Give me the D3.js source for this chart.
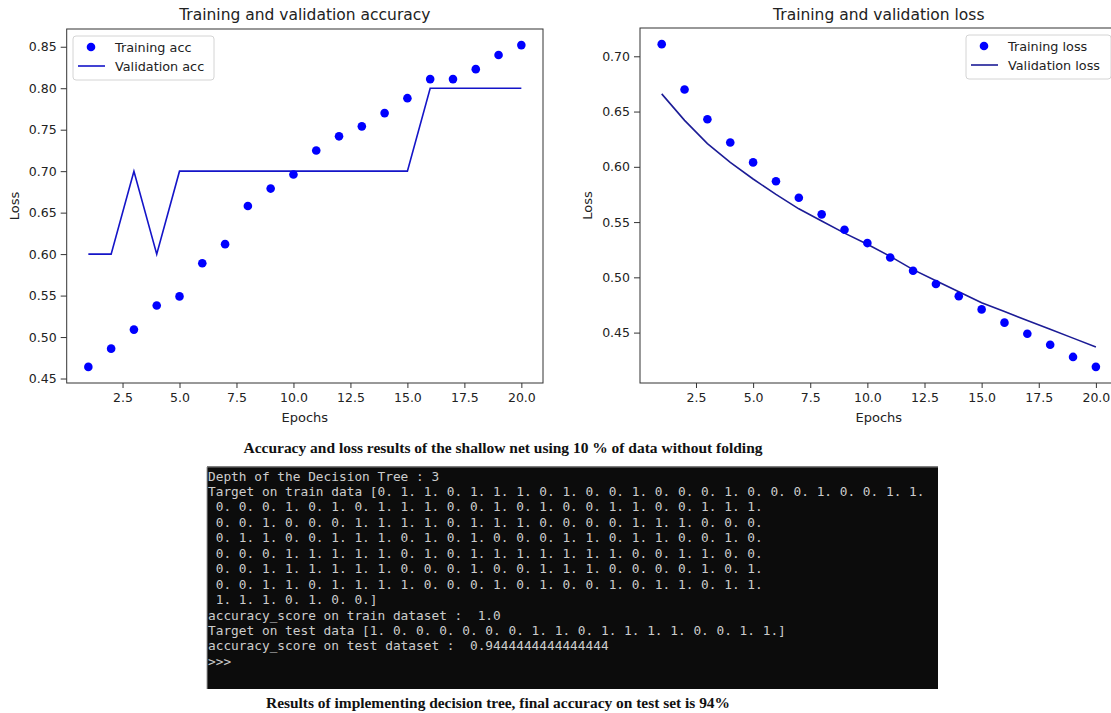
<!DOCTYPE html>
<html>
<head>
<meta charset="utf-8">
<script src="https://cdn.jsdelivr.net/npm/d3@7"></script>
<style>
body { margin: 0; background: #fff; }
text { font-family: "DejaVu Sans", sans-serif; }
</style>
</head>
<body>
<script>
// epochs and the four series
var epochs = [1, 2, 3, 4, 5, 6, 7, 8, 9, 10, 11, 12, 13, 14, 15, 16, 17, 18, 19, 20];
var trainAcc = [0.464, 0.486, 0.509, 0.538, 0.549, 0.589, 0.612, 0.658, 0.679, 0.696,
                0.725, 0.742, 0.754, 0.770, 0.788, 0.811, 0.811, 0.823, 0.840, 0.852];
var valAcc = [0.6, 0.6, 0.7, 0.6, 0.7, 0.7, 0.7, 0.7, 0.7, 0.7,
              0.7, 0.7, 0.7, 0.7, 0.7, 0.8, 0.8, 0.8, 0.8, 0.8];
var trainLoss = [0.711, 0.670, 0.643, 0.622, 0.604, 0.587, 0.572, 0.557, 0.543, 0.531,
                 0.518, 0.506, 0.494, 0.483, 0.471, 0.459, 0.449, 0.439, 0.428, 0.419];
var valLoss = [0.666, 0.642, 0.621, 0.604, 0.589, 0.575, 0.562, 0.551, 0.540, 0.530,
               0.519, 0.507, 0.497, 0.487, 0.477, 0.469, 0.461, 0.453, 0.445, 0.437];

var epochTicks = [2.5, 5.0, 7.5, 10.0, 12.5, 15.0, 17.5, 20.0];
var accTicks = [0.45, 0.50, 0.55, 0.60, 0.65, 0.70, 0.75, 0.80, 0.85];
var lossTicks = [0.45, 0.50, 0.55, 0.60, 0.65, 0.70];

var caption1 = "Accuracy and loss results of the shallow net using 10 % of data without folding";
var caption2 = "Results of implementing decision tree, final accuracy on test set is 94%";

// console output shown in the screenshot
var consoleLines = [
  "Depth of the Decision Tree : 3",
  "Target on train data [0. 1. 1. 0. 1. 1. 1. 0. 1. 0. 0. 1. 0. 0. 0. 1. 0. 0. 0. 1. 0. 0. 1. 1.",
  " 0. 0. 0. 1. 0. 1. 0. 1. 1. 1. 0. 0. 1. 0. 1. 0. 0. 1. 1. 0. 0. 1. 1. 1.",
  " 0. 0. 1. 0. 0. 0. 1. 1. 1. 1. 0. 1. 1. 1. 0. 0. 0. 0. 1. 1. 1. 0. 0. 0.",
  " 0. 1. 1. 0. 0. 1. 1. 1. 0. 1. 0. 1. 0. 0. 0. 1. 1. 0. 1. 1. 0. 0. 1. 0.",
  " 0. 0. 0. 1. 1. 1. 1. 1. 0. 1. 0. 1. 1. 1. 1. 1. 1. 1. 0. 0. 1. 1. 0. 0.",
  " 0. 0. 1. 1. 1. 1. 1. 1. 0. 0. 0. 1. 0. 0. 1. 1. 1. 0. 0. 0. 0. 1. 0. 1.",
  " 0. 0. 1. 1. 0. 1. 1. 1. 1. 0. 0. 0. 1. 0. 1. 0. 0. 1. 0. 1. 1. 0. 1. 1.",
  " 1. 1. 1. 0. 1. 0. 0.]",
  "accuracy_score on train dataset :  1.0",
  "Target on test data [1. 0. 0. 0. 0. 0. 0. 1. 1. 0. 1. 1. 1. 1. 0. 0. 1. 1.]",
  "accuracy_score on test dataset :  0.9444444444444444",
  ">>>"
];

var svg = d3.select("body").append("svg")
  .attr("width", 1111)
  .attr("height", 713);

function panel(o) {
  var g = svg.append("g");
  var x = d3.scaleLinear().domain([0.05, 20.95]).range([o.left, o.right]);
  var all = o.dots.concat(o.line);
  var lo = d3.min(all), hi = d3.max(all), pad = (hi - lo) * 0.05; // matplotlib style margins
  var y = d3.scaleLinear().domain([lo - pad, hi + pad]).range([o.bottom, o.top]);

  var xAxis = g.append("g").attr("transform", "translate(0," + o.bottom + ")")
    .call(d3.axisBottom(x).tickValues(epochTicks).tickFormat(d3.format(".1f")).tickSize(5).tickPadding(5));
  var yAxis = g.append("g").attr("transform", "translate(" + o.left + ",0)")
    .call(d3.axisLeft(y).tickValues(o.yTicks).tickFormat(d3.format(".2f")).tickSize(6).tickPadding(4));
  [xAxis, yAxis].forEach(function(a) {
    a.select(".domain").remove();
    a.selectAll("line").attr("stroke", "#333");
    a.selectAll("text").style("font-size", "12.5px").style("fill", "#222");
  });

  // frame
  g.append("rect")
    .attr("x", o.left).attr("y", o.top)
    .attr("width", o.right - o.left).attr("height", o.bottom - o.top)
    .attr("fill", "none").attr("stroke", "#333").attr("stroke-width", 1);

  g.append("path")
    .datum(o.line)
    .attr("fill", "none")
    .attr("stroke", o.lineColor)
    .attr("stroke-width", 1.6)
    .attr("d", d3.line().x(function(d, i) { return x(epochs[i]); }).y(function(d) { return y(d); }));

  g.selectAll("circle.pt")
    .data(o.dots)
    .enter().append("circle")
    .attr("class", "pt")
    .attr("cx", function(d, i) { return x(epochs[i]); })
    .attr("cy", function(d) { return y(d); })
    .attr("r", 4.3)
    .attr("fill", "#0000ff");

  g.append("text")
    .attr("x", (o.left + o.right) / 2).attr("y", 19.5)
    .attr("text-anchor", "middle").style("font-size", "15.5px").style("fill", "#222")
    .text(o.title);
  g.append("text")
    .attr("x", (o.left + o.right) / 2).attr("y", 422)
    .attr("text-anchor", "middle").style("font-size", "13px").style("fill", "#222")
    .text("Epochs");
  g.append("text")
    .attr("transform", "translate(" + (o.left - 48) + "," + ((o.top + o.bottom) / 2) + ") rotate(-90)")
    .attr("text-anchor", "middle").style("font-size", "13px").style("fill", "#222")
    .text("Loss");

  // legend
  var lx = o.legendX, ly = o.top + 7;
  var leg = g.append("g").attr("transform", "translate(" + lx + "," + ly + ")");
  leg.append("rect")
    .attr("width", o.legendW).attr("height", 44).attr("rx", 3)
    .attr("fill", "#fff").attr("fill-opacity", 0.85)
    .attr("stroke", "#d4d4d4");
  leg.append("circle").attr("cx", 18).attr("cy", 11).attr("r", 4.3).attr("fill", "#0000ff");
  leg.append("line").attr("x1", 5).attr("x2", 32).attr("y1", 30).attr("y2", 30)
    .attr("stroke", o.lineColor).attr("stroke-width", 1.6);
  leg.append("text").attr("x", 42).attr("y", 15.5).style("font-size", "12.8px").style("fill", "#222").text(o.names[0]);
  leg.append("text").attr("x", 42).attr("y", 34.5).style("font-size", "12.8px").style("fill", "#222").text(o.names[1]);
}

panel({
  left: 66.7, right: 543, top: 29, bottom: 383,
  dots: trainAcc, line: valAcc, yTicks: accTicks,
  lineColor: "#1414c8",
  title: "Training and validation accuracy",
  names: ["Training acc", "Validation acc"],
  legendX: 73, legendW: 141
});

panel({
  left: 640, right: 1117.6, top: 28, bottom: 383,
  dots: trainLoss, line: valLoss, yTicks: lossTicks,
  lineColor: "#1c1c96",
  title: "Training and validation loss",
  names: ["Training loss", "Validation loss"],
  legendX: 966, legendW: 145
});

// first caption
svg.append("text")
  .attr("x", 503).attr("y", 452.5)
  .attr("text-anchor", "middle")
  .attr("textLength", 519).attr("lengthAdjust", "spacingAndGlyphs")
  .style("font-family", "'Liberation Serif', serif").style("font-weight", "bold")
  .style("font-size", "14.5px").style("fill", "#111")
  .text(caption1);

// console screenshot
var term = svg.append("g");
term.append("rect")
  .attr("x", 207).attr("y", 467).attr("width", 731).attr("height", 222)
  .attr("fill", "#0c0c0c");
term.append("line").attr("x1", 207).attr("x2", 938).attr("y1", 467).attr("y2", 467)
  .attr("stroke", "#555").attr("stroke-width", 1.5);
term.append("line").attr("x1", 207).attr("x2", 207).attr("y1", 467).attr("y2", 689)
  .attr("stroke", "#9a9a9a").attr("stroke-width", 1);

term.selectAll("text.con")
  .data(consoleLines)
  .enter().append("text")
  .attr("class", "con")
  .attr("x", 208)
  .attr("y", function(d, i) { return 480.5 + i * 15.45; })
  .attr("xml:space", "preserve")
  .style("white-space", "pre")
  .style("font-family", "'DejaVu Sans Mono', monospace")
  .style("font-size", "12.8px")
  .style("fill", "#cccccc")
  .text(function(d) { return d; });

// second caption
svg.append("text")
  .attr("x", 498).attr("y", 708)
  .attr("text-anchor", "middle")
  .attr("textLength", 464).attr("lengthAdjust", "spacingAndGlyphs")
  .style("font-family", "'Liberation Serif', serif").style("font-weight", "bold")
  .style("font-size", "14.5px").style("fill", "#111")
  .text(caption2);
</script>
</body>
</html>
